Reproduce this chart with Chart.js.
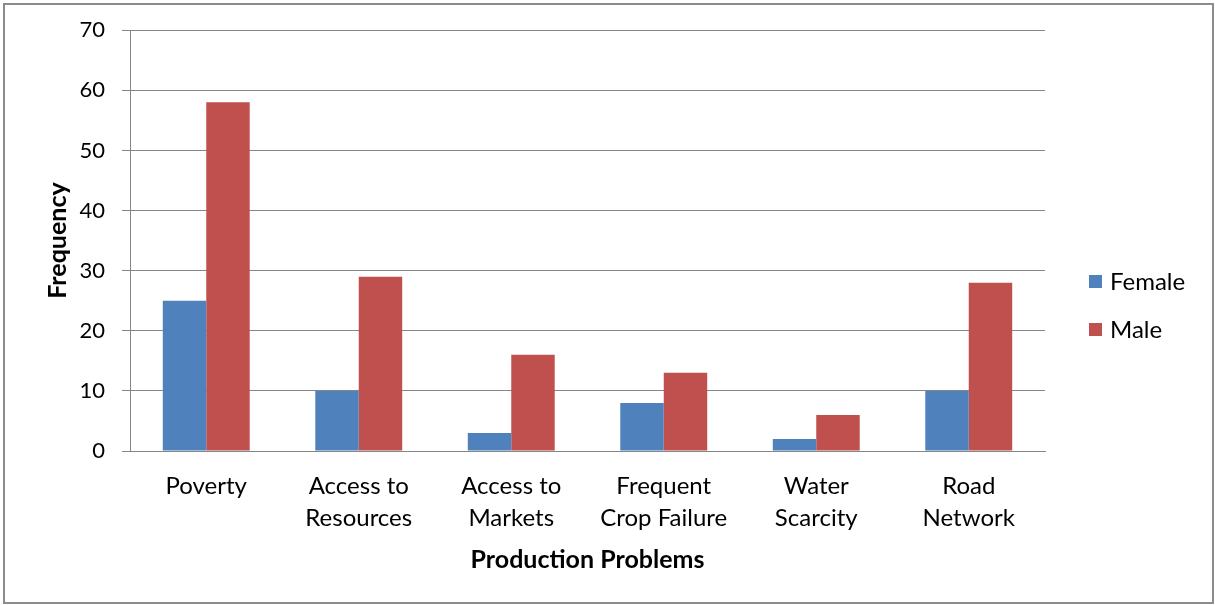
<!DOCTYPE html>
<html>
<head>
<meta charset="utf-8">
<script src="https://cdn.jsdelivr.net/npm/chart.js@4/dist/chart.umd.min.js"></script>
<style>
  body { margin: 0; background: #fff; }
  #frame { position: absolute; left: 3px; top: 3px; width: 1207px; height: 597px; border: 2px solid #8c8c8c; background: #fff; }
  #wrap { position: absolute; left: -5px; top: -5px; width: 1215px; height: 605px; }
</style>
</head>
<body>
<div id="frame"><div id="wrap"><canvas id="chart" width="1215" height="605"></canvas></div></div>
<script>
// production problems by gender
const problems = [
  'Poverty',
  ['Access to', 'Resources'],
  ['Access to', 'Markets'],
  ['Frequent', 'Crop Failure'],
  ['Water', 'Scarcity'],
  ['Road', 'Network']
];
const female = [25, 10, 3, 8, 2, 10];
const male = [58, 29, 16, 13, 6, 28];
const yTicks = [0, 10, 20, 30, 40, 50, 60, 70];

const font = 'Lato, "Open Sans", sans-serif';
const gridColor = '#868686';

Chart.defaults.font.family = font;
Chart.defaults.color = '#000';

// legend to the right of the plot, square swatch then label
const sideLegend =
{
  id: 'sideLegend',
  afterDraw(chart)
  {
    const ctx = chart.ctx;
    const x = chart.chartArea.right + 44;
    let y = 281;
    ctx.save();
    ctx.font = '24px ' + font;
    ctx.textBaseline = 'middle';
    ctx.fillStyle = '#000';
    chart.data.datasets.forEach((ds) =>
    {
      ctx.fillStyle = ds.backgroundColor;
      ctx.fillRect(x, y - 6, 13, 13);
      ctx.fillStyle = '#000';
      ctx.fillText(ds.label, x + 21, y + 1);
      y += 48;
    });
    ctx.restore();
  }
};

new Chart(document.getElementById('chart'),
{
  type: 'bar',
  data:
  {
    labels: problems,
    datasets: [
      {label: 'Female', data: female, backgroundColor: '#4f81bd', barPercentage: 1, categoryPercentage: 0.57},
      {label: 'Male', data: male, backgroundColor: '#c0504d', barPercentage: 1, categoryPercentage: 0.57}
    ]
  },
  plugins: [sideLegend],
  options:
  {
    responsive: false,
    animation: false,
    layout: {padding: {left: 39, right: 170, top: 25, bottom: 30}},
    plugins:
    {
      tooltip: {enabled: false},
      legend: {display: false}
    },
    scales:
    {
      x:
      {
        afterFit: (s) => { s.height = 605 - 30 - 451; },
        grid: {display: false},
        border: {color: gridColor},
        ticks: {maxRotation: 0, autoSkip: false, padding: 12, font: {size: 24, lineHeight: 1.3}},
        title: {display: true, text: 'Production Problems', font: {size: 25, weight: 'bold'}, padding: {top: 0, bottom: 0}}
      },
      y:
      {
        min: 0,
        max: yTicks[yTicks.length - 1],
        afterBuildTicks: (s) => { s.ticks = yTicks.map((v) => ({value: v})); },
        afterFit: (s) => { s.width = 130 - 39; },
        grid: {color: gridColor, tickLength: 8},
        border: {color: gridColor},
        ticks: {padding: 17, font: {size: 22}},
        title: {display: true, text: 'Frequency', font: {size: 25, weight: 'bold'}, padding: {bottom: 0}}
      }
    }
  }
});
</script>
</body>
</html>
